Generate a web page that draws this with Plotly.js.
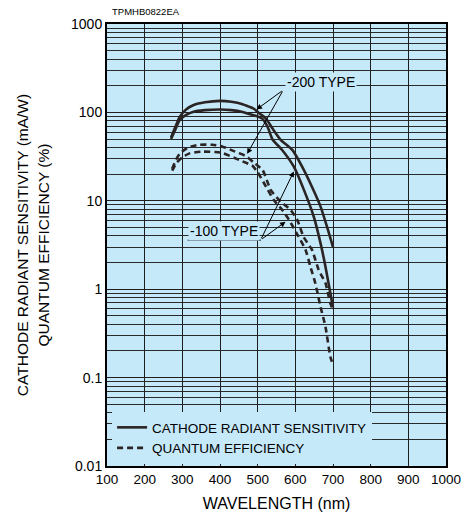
<!DOCTYPE html>
<html>
<head>
<meta charset="utf-8">
<script src="https://cdn.plot.ly/plotly-3.0.1.min.js"></script>
<style>html,body{margin:0;padding:0;background:#fff;}#chart{width:462px;height:517px;}</style>
</head>
<body>
<div id="chart"></div>
<script>
// ---- data ----
const wlSens200 = [270, 280, 293, 310, 330, 360, 400, 430, 460, 475, 490, 504, 521, 539, 561, 592, 618, 644, 667, 684, 700];
const sens200   = [52, 66, 89, 108, 121, 130, 135, 132, 124, 117, 110, 98, 86, 66, 49, 37.6, 24.3, 14.4, 8.6, 5.1, 3.0];

const wlSens100 = [270, 280, 293, 310, 330, 360, 400, 430, 460, 480, 500, 512, 526, 540, 565, 596, 623, 649, 667, 680, 693, 700];
const sens100   = [50, 62, 82, 94, 102, 106, 108, 106, 101, 95, 90, 85, 69, 49, 37.6, 24.3, 13.2, 6.6, 3.3, 1.8, 0.9, 0.62];

const wlQE200 = [273, 283, 293, 315, 345, 380, 407, 440, 469, 490, 513, 535, 561, 587, 605, 622, 644, 662, 680, 693, 700];
const qe200   = [23, 29, 34, 40, 43, 43, 41, 36, 32, 27, 22.3, 13.2, 9.8, 7.9, 6.1, 3.9, 2.8, 1.65, 1.17, 0.69, 0.58];

const wlQE100 = [273, 285, 300, 319, 354, 403, 451, 477, 486, 500, 517, 543, 565, 583, 609, 627, 640, 653, 667, 680, 693, 700];
const qe100   = [22, 27, 31, 34.4, 36, 35, 29, 26, 25, 21, 15.8, 10.2, 7.9, 6.1, 3.9, 2.8, 1.8, 1.17, 0.63, 0.377, 0.172, 0.14];

const xTicks = [100, 200, 300, 400, 500, 600, 700, 800, 900, 1000];
const xTickText = ['100', '200', '300', '400', '500', '600', '700', '800', '900', '1000'];
const yTicks = [0.01, 0.1, 1, 10, 100, 1000];
const yTickText = ['0.01', '0.1', '1', '10', '100', '1000'];

const seriesNames = ['CATHODE RADIANT SENSITIVITY', 'QUANTUM EFFICIENCY'];

// ---- styling ----
const BG = '#c6e9f9';
const INK = '#2b2424';
const FONT = 'Liberation Sans, Arial, Helvetica, sans-serif';

const solid = {color: INK, width: 2.6, shape: 'spline', smoothing: 0.6};
const dashed = {color: INK, width: 2.6, dash: '6px,4px', shape: 'spline', smoothing: 0.6};

const traces = [
  {x: wlSens200, y: sens200, mode: 'lines', line: solid, name: seriesNames[0], showlegend: true, hoverinfo: 'skip'},
  {x: wlSens100, y: sens100, mode: 'lines', line: solid, name: seriesNames[0], showlegend: false, hoverinfo: 'skip'},
  {x: wlQE200, y: qe200, mode: 'lines', line: dashed, name: seriesNames[1], showlegend: true, hoverinfo: 'skip'},
  {x: wlQE100, y: qe100, mode: 'lines', line: dashed, name: seriesNames[1], showlegend: false, hoverinfo: 'skip'}
];

const arrowStyle = {showarrow: true, arrowhead: 2, arrowsize: 1.1, arrowwidth: 1, arrowcolor: '#000', axref: 'x', ayref: 'y', text: '', standoff: 0};
const L = Math.log10;

const annotations = [
  {xref: 'paper', yref: 'paper', x: 0.01, y: 1.012, xanchor: 'left', yanchor: 'bottom', showarrow: false,
   text: 'TPMHB0822EA', font: {family: FONT, size: 9.5, color: '#000'}},
  // -200 TYPE label and arrows
  {xref: 'x', yref: 'y', x: 667, y: 2.344, showarrow: false, text: '-200 TYPE', bgcolor: BG, borderpad: 1,
   font: {family: FONT, size: 14, color: '#000'}},
  Object.assign({}, arrowStyle, {x: 497, y: L(108), ax: 568, ay: 2.253}),
  Object.assign({}, arrowStyle, {x: 472, y: L(34), ax: 568, ay: 2.253}),
  // -100 TYPE label and arrows
  {xref: 'x', yref: 'y', x: 411, y: 0.664, showarrow: false, text: '-100 TYPE', bgcolor: BG, borderpad: 1,
   font: {family: FONT, size: 14, color: '#000'}},
  Object.assign({}, arrowStyle, {x: 596, y: L(21.5), ax: 508, ay: 0.557}),
  Object.assign({}, arrowStyle, {x: 574, y: L(5.8), ax: 508, ay: 0.557})
];

const shapes = [
  {type: 'line', xref: 'paper', yref: 'paper', x0: 0.238, x1: 0.454, y0: 0.511, y1: 0.511, line: {color: '#000', width: 1}}
];

const layout = {
  width: 462, height: 517,
  margin: {l: 107, r: 16, t: 24, b: 51, pad: 0},
  paper_bgcolor: '#ffffff',
  plot_bgcolor: BG,
  font: {family: FONT, color: '#000', size: 14},
  showlegend: true,
  legend: {x: 0.015, y: 0.122, xanchor: 'left', yanchor: 'top', bgcolor: BG, borderwidth: 0,
           font: {family: FONT, size: 13.5, color: '#000'}, itemwidth: 30, tracegroupgap: 0, traceorder: 'normal'},
  xaxis: {
    type: 'linear', range: [100, 1000], tickvals: xTicks, ticktext: xTickText,
    showgrid: true, gridcolor: '#1e1e1e', gridwidth: 1, zeroline: false,
    showline: true, linecolor: '#000', linewidth: 2, mirror: true, ticks: '',
    ticklabeloverflow: 'allow',
    tickfont: {family: FONT, size: 13.5, color: '#000'},
    title: {text: 'WAVELENGTH (nm)', font: {family: FONT, size: 16, color: '#000'}, standoff: 12}
  },
  yaxis: {
    type: 'log', range: [-2, 3], tickvals: yTicks, ticktext: yTickText,
    showgrid: true, gridcolor: '#1e1e1e', gridwidth: 1, zeroline: false,
    minor: {dtick: 'D1', showgrid: true, gridcolor: '#2a2a2a', gridwidth: 1, ticks: ''},
    showline: true, linecolor: '#000', linewidth: 2, mirror: true, ticks: '',
    ticklabeloverflow: 'allow',
    tickfont: {family: FONT, size: 14, color: '#000'},
    title: {text: 'CATHODE RADIANT SENSITIVITY (mA&#47;W)<br>QUANTUM EFFICIENCY (%)', font: {family: FONT, size: 15.5, color: '#000'}, standoff: 18}
  },
  annotations: annotations,
  shapes: shapes
};

Plotly.newPlot('chart', traces, layout, {staticPlot: true, displayModeBar: false});
</script>
</body>
</html>
